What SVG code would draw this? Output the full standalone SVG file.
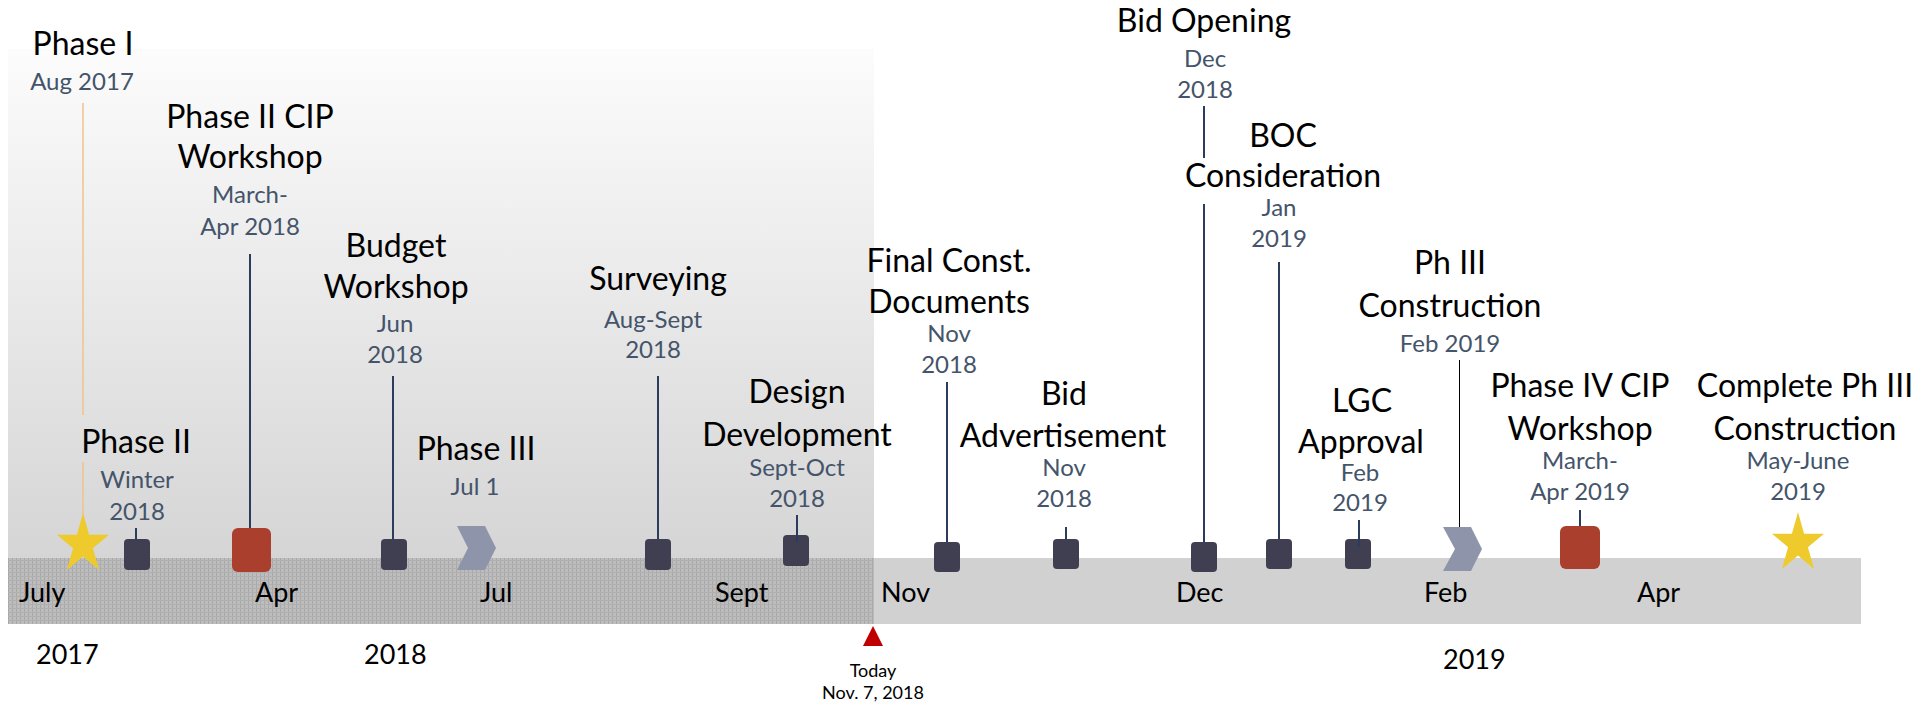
<svg xmlns="http://www.w3.org/2000/svg" width="1929" height="706" viewBox="0 0 1929 706">
<defs>
<linearGradient id="pg" x1="0" y1="0" x2="0" y2="1">
<stop offset="0" stop-color="#fcfcfc"/>
<stop offset="1" stop-color="#d5d5d5"/>
</linearGradient>
<pattern id="hatch" width="4" height="4" patternUnits="userSpaceOnUse">
<rect width="4" height="4" fill="#bdbdbd"/>
<rect width="1" height="4" fill="#a9a9a9"/>
<rect width="4" height="1" fill="#b0b0b0"/>
</pattern>
<polygon id="star" points="0,0 6.1,21.8 26,21.8 9.9,35.2 16.1,57 0,43.5 -16.1,57 -9.9,35.2 -26,21.8 -6.1,21.8"/>
</defs>
<style>
text{font-family:Lato,"Liberation Sans",sans-serif}
.t{font-size:32px;fill:#000;text-anchor:middle}
.d{font-size:24px;fill:#44546a;text-anchor:middle}
.m{font-size:27px;fill:#000}
.y{font-size:27px;fill:#000}
.tod{font-size:18px;fill:#000;text-anchor:middle}
.ln{stroke:#2b3d5c;stroke-width:2;fill:none}
.ln1{stroke:#f2c28c;stroke-width:1.5;fill:none}
.ln2{stroke:#000;stroke-width:1;fill:none}
.mk{fill:#403f51}
.rd{fill:#a93f2c}
.ch{fill:#8e95ab}
.st{fill:#efca2c}
</style>
<rect width="1929" height="706" fill="#fff"/>
<g id="background">
<rect x="8" y="49" width="866" height="510" fill="url(#pg)"/>
<rect x="8" y="558" width="866" height="66" fill="url(#hatch)"/>
<rect x="874" y="558" width="987" height="66" fill="#d1d1d1"/>
</g>
<g id="axis-labels">
<text class="m" x="19" y="602">July</text>
<text class="m" x="255" y="602">Apr</text>
<text class="m" x="480" y="602">Jul</text>
<text class="m" x="715" y="602">Sept</text>
<text class="m" x="881" y="602">Nov</text>
<text class="m" x="1176" y="602">Dec</text>
<text class="m" x="1424" y="602">Feb</text>
<text class="m" x="1637" y="602">Apr</text>
<text class="y" x="36" y="664">2017</text>
<text class="y" x="364" y="664">2018</text>
<text class="y" x="1443" y="669">2019</text>
</g>
<g id="connectors">
<line class="ln1" x1="83" y1="103" x2="83" y2="415"/>
<line class="ln1" x1="83" y1="462" x2="83" y2="515"/>
<line class="ln" x1="136" y1="528" x2="136" y2="540"/>
<line class="ln" x1="250" y1="254" x2="250" y2="529"/>
<line class="ln" x1="393" y1="376" x2="393" y2="540"/>
<line class="ln" x1="658" y1="376" x2="658" y2="540"/>
<line class="ln" x1="947" y1="382" x2="947" y2="543"/>
<line class="ln" x1="1066" y1="527" x2="1066" y2="540"/>
<line class="ln" x1="1204" y1="106" x2="1204" y2="158"/>
<line class="ln" x1="1204" y1="204" x2="1204" y2="543"/>
<line class="ln" x1="1279" y1="262" x2="1279" y2="540"/>
<line class="ln2" x1="1459.5" y1="360" x2="1459.5" y2="528"/>
<line class="ln" x1="1580" y1="510" x2="1580" y2="527"/>
</g>
<g id="phase-1">
<text class="t" x="83" y="55">Phase I</text>
<text class="d" x="82" y="90">Aug 2017</text>
<use href="#star" class="st" transform="translate(83,513)"/>
</g>
<g id="phase-2">
<text class="t" x="136" y="453">Phase II</text>
<text class="d" x="137" y="488">Winter</text>
<text class="d" x="137" y="520">2018</text>
<rect class="mk" x="124" y="539" width="26" height="31" rx="4"/>
</g>
<g id="phase-2-cip">
<text class="t" x="250" y="128">Phase II CIP</text>
<text class="t" x="250" y="168">Workshop</text>
<text class="d" x="250" y="203">March-</text>
<text class="d" x="250" y="235">Apr 2018</text>
<rect class="rd" x="232" y="528" width="39" height="44" rx="6"/>
</g>
<g id="budget-workshop">
<text class="t" x="396" y="257">Budget</text>
<text class="t" x="396" y="298">Workshop</text>
<text class="d" x="395" y="332">Jun</text>
<text class="d" x="395" y="363">2018</text>
<rect class="mk" x="381" y="539" width="26" height="31" rx="4"/>
</g>
<g id="phase-3">
<text class="t" x="476" y="460">Phase III</text>
<text class="d" x="475" y="495">Jul 1</text>
<polygon class="ch" points="457,526 485,526 496,548 485,570 457,570 468,548"/>
</g>
<g id="surveying">
<text class="t" x="658" y="290">Surveying</text>
<text class="d" x="653" y="328">Aug-Sept</text>
<text class="d" x="653" y="358">2018</text>
<rect class="mk" x="645" y="539" width="26" height="31" rx="4"/>
</g>
<g id="design-development">
<text class="t" x="797" y="403">Design</text>
<text class="t" x="797" y="446">Development</text>
<text class="d" x="797" y="476">Sept-Oct</text>
<text class="d" x="797" y="507">2018</text>
<rect class="mk" x="783" y="535" width="26" height="31" rx="4"/>
<line class="ln" x1="797" y1="515" x2="797" y2="542"/>
</g>
<g id="final-const-documents">
<text class="t" x="949" y="272">Final Const.</text>
<text class="t" x="949" y="313">Documents</text>
<text class="d" x="949" y="342">Nov</text>
<text class="d" x="949" y="373">2018</text>
<rect class="mk" x="934" y="542" width="26" height="30" rx="4"/>
</g>
<g id="bid-advertisement">
<text class="t" x="1064" y="405">Bid</text>
<text class="t" x="1063" y="447">Advertisement</text>
<text class="d" x="1064" y="476">Nov</text>
<text class="d" x="1064" y="507">2018</text>
<rect class="mk" x="1053" y="539" width="26" height="30" rx="4"/>
</g>
<g id="bid-opening">
<text class="t" x="1204" y="32">Bid Opening</text>
<text class="d" x="1205" y="67">Dec</text>
<text class="d" x="1205" y="98">2018</text>
<rect class="mk" x="1191" y="542" width="26" height="30" rx="4"/>
</g>
<g id="boc-consideration">
<text class="t" x="1283" y="147">BOC</text>
<text class="t" x="1283" y="187">Consideration</text>
<text class="d" x="1279" y="216">Jan</text>
<text class="d" x="1279" y="247">2019</text>
<rect class="mk" x="1266" y="539" width="26" height="30" rx="4"/>
</g>
<g id="lgc-approval">
<text class="t" x="1362" y="412">LGC</text>
<text class="t" x="1361" y="453">Approval</text>
<text class="d" x="1360" y="481">Feb</text>
<text class="d" x="1360" y="511">2019</text>
<rect class="mk" x="1345" y="539" width="26" height="30" rx="4"/>
<line class="ln" x1="1359" y1="520" x2="1359" y2="547"/>
</g>
<g id="ph3-construction">
<text class="t" x="1450" y="274">Ph III</text>
<text class="t" x="1450" y="317">Construction</text>
<text class="d" x="1450" y="352">Feb 2019</text>
<polygon class="ch" points="1443,527 1471,527 1482,549 1471,571 1443,571 1455,549"/>
</g>
<g id="phase-4-cip">
<text class="t" x="1580" y="397">Phase IV CIP</text>
<text class="t" x="1580" y="440">Workshop</text>
<text class="d" x="1580" y="469">March-</text>
<text class="d" x="1580" y="500">Apr 2019</text>
<rect class="rd" x="1560" y="526" width="40" height="43" rx="6"/>
</g>
<g id="complete-ph3">
<text class="t" x="1805" y="397">Complete Ph III</text>
<text class="t" x="1805" y="440">Construction</text>
<text class="d" x="1798" y="469">May-June</text>
<text class="d" x="1798" y="500">2019</text>
<use href="#star" class="st" transform="translate(1798,512)"/>
</g>
<g id="today">
<polygon points="863,646 873,626 883,646" fill="#c00000"/>
<text class="tod" x="873" y="677">Today</text>
<text class="tod" x="873" y="699">Nov. 7, 2018</text>
</g>
</svg>
